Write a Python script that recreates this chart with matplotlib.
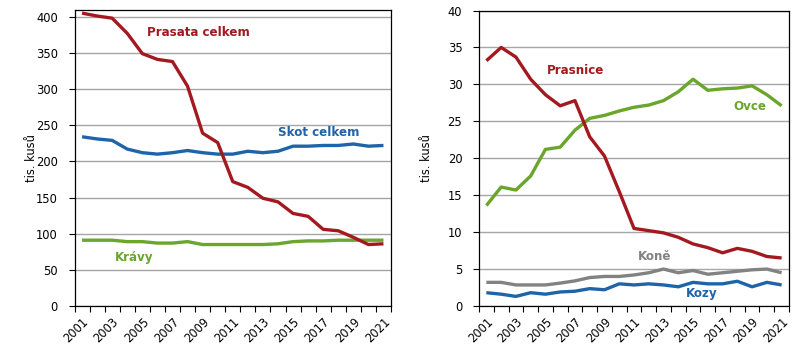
import matplotlib
matplotlib.use("Agg")
import matplotlib.pyplot as plt
import numpy as np

years = list(range(2001, 2022))
year_labels = [str(y) if (y - 2001) % 2 == 0 else "" for y in years]

prasata = [405, 401, 398, 377, 349, 341, 338, 304, 239, 226, 172, 164, 149, 144, 128, 124, 106, 104, 95, 85, 86]
skot = [234, 231, 229, 217, 212, 210, 212, 215, 212, 210, 210, 214, 212, 214, 221, 221, 222, 222, 224, 221, 222]
kravy = [91, 91, 91, 89, 89, 87, 87, 89, 85, 85, 85, 85, 85, 86, 89, 90, 90, 91, 91, 91, 91]

prasnice = [33.2, 35.0, 33.7, 30.7, 28.6, 27.1, 27.8, 22.9, 20.3, 15.5, 10.5, 10.2, 9.9, 9.3, 8.4, 7.9, 7.2, 7.8, 7.4, 6.7, 6.5]
ovce = [13.6, 16.1, 15.7, 17.6, 21.2, 21.5, 23.8, 25.4, 25.8, 26.4, 26.9, 27.2, 27.8, 29.0, 30.7, 29.2, 29.4, 29.5, 29.8, 28.6, 27.1]
kone = [3.2, 3.2, 2.85, 2.85, 2.85, 3.1, 3.4, 3.85, 4.0, 4.0, 4.2, 4.5, 5.0, 4.5, 4.8, 4.3, 4.5, 4.7, 4.9, 5.0, 4.5]
kozy = [1.8, 1.6, 1.3, 1.8, 1.6, 1.9, 2.0, 2.35, 2.2, 3.0, 2.85, 3.0, 2.85, 2.6, 3.2, 3.0, 3.0, 3.35, 2.6, 3.2, 2.85]

RED = "#A3191F"
BLUE = "#1F64A8"
GREEN = "#6AA52C"
GRAY = "#828282"

plt.rcParams['font.family'] = ['DejaVu Sans']

W, H = 801, 353
fig = plt.figure(figsize=(W / 100, H / 100), dpi=100)
fig.patch.set_facecolor("white")

def px_axes(x0, y0, x1, y1):
    return fig.add_axes([x0 / W, 1 - y1 / H, (x1 - x0) / W, (y1 - y0) / H])

ax1 = px_axes(74.5, 9.5, 391, 306)
ax2 = px_axes(479, 10.5, 789, 306)

x = np.arange(len(years))

def style(ax, ymax, yticks):
    ax.set_xlim(-0.5, len(years) - 0.5)
    ax.set_ylim(0, ymax)
    ax.set_yticks(yticks)
    ax.set_yticklabels([str(t) for t in yticks], fontsize=8.3)
    ax.set_xticks(x)
    ax.set_xticklabels(year_labels, rotation=45, ha="right", rotation_mode="anchor", fontsize=8.3)
    ax.set_xticks(np.arange(-0.5, len(years)), minor=True)
    ax.tick_params(axis="x", which="major", length=0, pad=7)
    ax.tick_params(axis="x", which="minor", length=4.5, width=0.8, direction="out")
    ax.tick_params(axis="y", which="major", length=4.5, width=0.8, pad=7.5)
    ax.grid(axis="y", color="#A6A6A6", linewidth=1.0)
    ax.set_axisbelow(True)
    for s in ax.spines.values():
        s.set_linewidth(0.9)
        s.set_color("black")
    ax.set_ylabel("tis. kusů", fontsize=8.3)

style(ax1, 410, [0, 50, 100, 150, 200, 250, 300, 350, 400])
ax1.yaxis.set_label_coords(-0.115, 0.5)
lw = 2.4
ax1.plot(x, kravy, color=GREEN, lw=lw, solid_capstyle="butt")
ax1.plot(x, skot, color=BLUE, lw=lw, solid_capstyle="butt")
ax1.plot(x, prasata, color=RED, lw=lw, solid_capstyle="butt")

fs = 8.6
ax1.text(198 / W, 1 - 32 / H, "Prasata celkem", transform=fig.transFigure, color=RED, fontsize=fs, fontweight="bold", ha="center", va="center")
ax1.text(319 / W, 1 - 133 / H, "Skot celkem", transform=fig.transFigure, color=BLUE, fontsize=fs, fontweight="bold", ha="center", va="center")
ax1.text(134 / W, 1 - 257 / H, "Krávy", transform=fig.transFigure, color=GREEN, fontsize=fs, fontweight="bold", ha="center", va="center")

style(ax2, 40, [0, 5, 10, 15, 20, 25, 30, 35, 40])
ax2.yaxis.set_label_coords(-0.15, 0.5)
ax2.plot(x, kozy, color=BLUE, lw=lw, solid_capstyle="butt")
ax2.plot(x, kone, color=GRAY, lw=lw, solid_capstyle="butt")
ax2.plot(x, ovce, color=GREEN, lw=lw, solid_capstyle="butt")
ax2.plot(x, prasnice, color=RED, lw=lw, solid_capstyle="butt")

ax2.text(576 / W, 1 - 70 / H, "Prasnice", transform=fig.transFigure, color=RED, fontsize=fs, fontweight="bold", ha="center", va="center")
ax2.text(750 / W, 1 - 107 / H, "Ovce", transform=fig.transFigure, color=GREEN, fontsize=fs, fontweight="bold", ha="center", va="center")
ax2.text(655 / W, 1 - 257 / H, "Koně", transform=fig.transFigure, color=GRAY, fontsize=fs, fontweight="bold", ha="center", va="center")
ax2.text(702 / W, 1 - 294 / H, "Kozy", transform=fig.transFigure, color=BLUE, fontsize=fs, fontweight="bold", ha="center", va="center")

fig.savefig("out.png", dpi=100)
